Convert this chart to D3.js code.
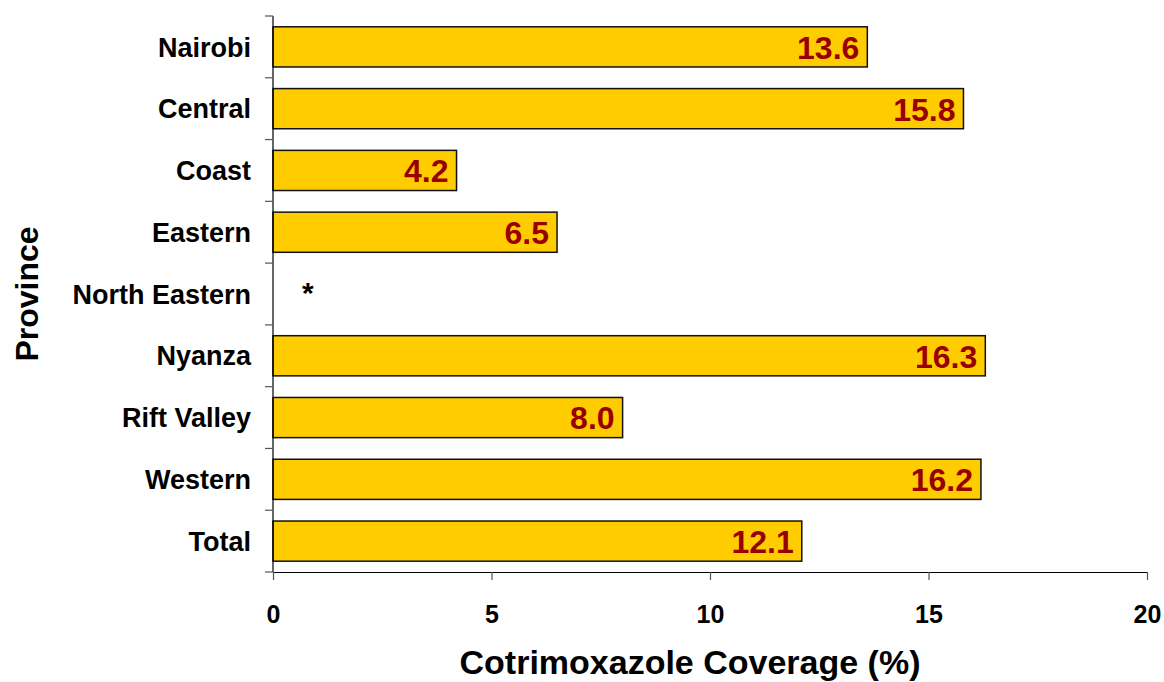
<!DOCTYPE html>
<html>
<head>
<meta charset="utf-8">
<script src="https://cdn.jsdelivr.net/npm/d3@7"></script>
<style>
  body { margin: 0; background: #fff; }
  svg text { font-family: "Liberation Sans", Arial, sans-serif; font-weight: bold; }
</style>
</head>
<body>
<div id="chart"></div>
<script>
// chart size
var w = 1164;
var h = 682;

// data
var provinces = ["Nairobi", "Central", "Coast", "Eastern", "North Eastern", "Nyanza", "Rift Valley", "Western", "Total"];
var coverage = [13.6, 15.8, 4.2, 6.5, null, 16.3, 8.0, 16.2, 12.1];
var xTicks = [0, 5, 10, 15, 20];
var missingMark = "*";  // shown where no value

var svg = d3.select("#chart").append("svg")
    .attr("width", w)
    .attr("height", h);

var xScale = d3.scaleLinear().domain([0, 20]).range([273, 1147]);
var yScale = d3.scaleBand().domain(provinces).range([16, 572]).paddingInner(0.35).paddingOuter(0.175);

// bars
var rows = provinces.map(function(p, i) { return {name: p, v: coverage[i]}; });

svg.selectAll("rect.bar")
   .data(rows.filter(function(d) { return d.v != null; }))
   .enter()
   .append("rect")
   .attr("class", "bar")
   .attr("x", xScale(0))
   .attr("y", function(d) { return yScale(d.name); })
   .attr("width", function(d) { return xScale(d.v) - xScale(0); })
   .attr("height", yScale.bandwidth())
   .style("fill", "#ffcc00")
   .style("stroke", "#111")
   .style("stroke-width", 1.5);

// value labels
svg.selectAll("text.val")
   .data(rows.filter(function(d) { return d.v != null; }))
   .enter()
   .append("text")
   .attr("class", "val")
   .attr("x", function(d) { return xScale(d.v) - 8; })
   .attr("y", function(d) { return yScale(d.name) + yScale.bandwidth() / 2; })
   .attr("dy", "0.37em")
   .attr("text-anchor", "end")
   .style("font-size", "32px")
   .style("fill", "#990000")
   .text(function(d) { return d.v.toFixed(1); });

// asterisk for missing value
svg.selectAll("text.miss")
   .data(rows.filter(function(d) { return d.v == null; }))
   .enter()
   .append("text")
   .attr("class", "miss")
   .attr("x", xScale(0.8))
   .attr("y", function(d) { return yScale(d.name) + yScale.bandwidth() / 2; })
   .attr("dy", "0.3em")
   .attr("text-anchor", "middle")
   .style("font-size", "30px")
   .text(missingMark);

// y axis (category boundaries as ticks)
var step = yScale.step();
var yEdges = d3.range(provinces.length + 1).map(function(i) { return 16 + i * step; });
svg.append("line")
   .attr("x1", xScale(0)).attr("x2", xScale(0))
   .attr("y1", yEdges[0]).attr("y2", yEdges[yEdges.length - 1])
   .style("stroke", "#000").style("stroke-width", 1.2);
svg.selectAll("line.ytick")
   .data(yEdges)
   .enter()
   .append("line")
   .attr("class", "ytick")
   .attr("x1", xScale(0) - 8).attr("x2", xScale(0))
   .attr("y1", function(d) { return d; }).attr("y2", function(d) { return d; })
   .style("stroke", "#555").style("stroke-width", 1.2);

svg.selectAll("text.cat")
   .data(provinces)
   .enter()
   .append("text")
   .attr("class", "cat")
   .attr("x", 251)
   .attr("y", function(d) { return yScale(d) + yScale.bandwidth() / 2; })
   .attr("dy", "0.36em")
   .attr("text-anchor", "end")
   .style("font-size", "27px")
   .text(function(d) { return d; });

// x axis
var xAxis = d3.axisBottom(xScale).tickValues(xTicks).tickSize(8).tickSizeOuter(0).tickPadding(25);
var gx = svg.append("g")
   .attr("transform", "translate(0," + 572 + ")")
   .call(xAxis);
gx.select(".domain").style("stroke", "#000").style("stroke-width", 1.2);
gx.selectAll(".tick line").style("stroke", "#555").style("stroke-width", 1.2);
gx.selectAll(".tick text")
  .style("font-size", "25px")
  .style("font-family", "Liberation Sans, Arial, sans-serif")
  .style("font-weight", "bold")
  .style("fill", "#000");

// titles
svg.append("text")
   .attr("x", (xScale(0) + xScale(20)) / 2 - 20)
   .attr("y", 674)
   .attr("text-anchor", "middle")
   .style("font-size", "34px")
   .text("Cotrimoxazole Coverage (%)");

svg.append("text")
   .attr("transform", "translate(38," + 294 + ") rotate(-90)")
   .attr("text-anchor", "middle")
   .style("font-size", "32px")
   .text("Province");
</script>
</body>
</html>
